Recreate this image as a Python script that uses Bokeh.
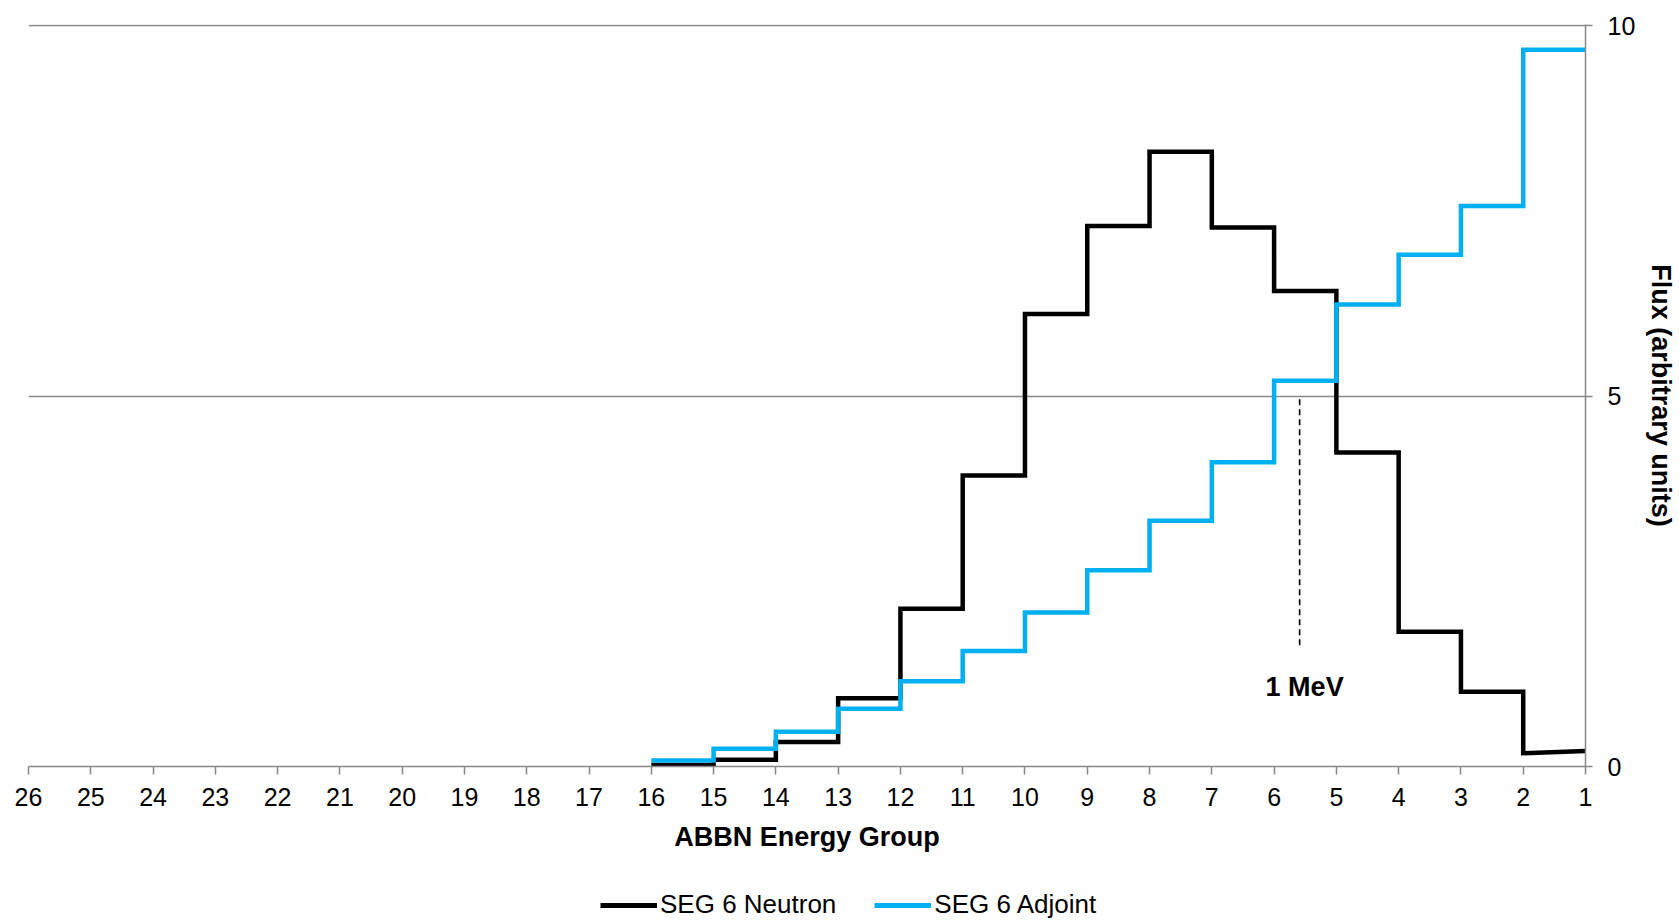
from bokeh.plotting import figure
from bokeh.layouts import column
from bokeh.models import Range1d, FixedTicker, Legend, LegendItem
from bokeh.core.properties import value
from bokeh.embed import file_html
from bokeh.resources import INLINE

# ---- data -------------------------------------------------------------
groups = list(range(16, 1, -1))          # left edge of each step: 16 .. 2
neutron = [0.02, 0.09, 0.33, 0.92, 2.13, 3.93, 6.11, 7.30, 8.30, 7.28, 6.42, 4.24, 1.82, 1.01, 0.18]
neutron_end = 0.21                        # value at group 1
adjoint = [0.08, 0.24, 0.47, 0.78, 1.15, 1.56, 2.08, 2.65, 3.32, 4.11, 5.21, 6.24, 6.91, 7.57, 9.68]
adjoint_end = 9.68
series_names = ["SEG 6 Neutron", "SEG 6 Adjoint"]
series_colors = ["black", "#00B0F0"]
x_ticks = list(range(1, 27))
y_ticks = [0, 5, 10]
mev_group = 5.59
mev_top, mev_bottom = 4.96, 1.61
mev_label = "1 MeV"
mev_label_x, mev_label_y = 5.51, 1.07

FONT = "Liberation Sans"
GRAY = "#898989"


def steps(levels, end):
    xs, ys = [], []
    for i, (g, v) in enumerate(zip(groups, levels)):
        last = i == len(levels) - 1
        xs += [g, g - 1]
        ys += [v, end if last else v]
    return xs, ys


nx, ny = steps(neutron, neutron_end)
ax, ay = steps(adjoint, adjoint_end)

p = figure(width=1679, height=880, x_range=Range1d(26, 1), y_range=Range1d(0, 10.02),
           output_backend="svg", toolbar_location=None, y_axis_location="right",
           min_border_left=28, min_border_right=91, min_border_top=24, min_border_bottom=114)
p.outline_line_color = None
p.background_fill_color = "white"
p.border_fill_color = "white"

p.line(nx, ny, line_color=series_colors[0], line_width=4.5, line_join="miter")
p.line(ax, ay, line_color=series_colors[1], line_width=4.5, line_join="miter")

p.segment(x0=[mev_group], y0=[mev_top], x1=[mev_group], y1=[mev_bottom],
          line_color="black", line_width=1.6, line_dash="6 4")
p.text(x=[mev_label_x], y=[mev_label_y], text=[mev_label], text_align="center",
       text_baseline="middle", text_font=value(FONT), text_font_style="bold",
       text_font_size="27px", text_color="black")

# axes
xa = p.xaxis[0]
xa.ticker = FixedTicker(ticks=x_ticks)
xa.axis_line_color = GRAY
xa.axis_line_width = 1.5
xa.major_tick_line_color = GRAY
xa.major_tick_line_width = 1.5
xa.major_tick_out = 8
xa.major_tick_in = 0
xa.minor_tick_line_color = None
xa.major_label_standoff = 13
xa.major_label_text_font = FONT
xa.major_label_text_font_size = "25px"
xa.major_label_text_color = "black"
xa.axis_label = "ABBN Energy Group"
xa.axis_label_text_font = FONT
xa.axis_label_text_font_style = "bold"
xa.axis_label_text_font_size = "27px"
xa.axis_label_text_color = "black"
xa.axis_label_standoff = 13

ya = p.yaxis[0]
ya.ticker = FixedTicker(ticks=y_ticks)
ya.axis_line_color = GRAY
ya.axis_line_width = 1.5
ya.major_tick_line_color = GRAY
ya.major_tick_line_width = 1.5
ya.major_tick_out = 7
ya.major_tick_in = 0
ya.minor_tick_line_color = None
ya.major_label_standoff = 15
ya.major_label_text_font = FONT
ya.major_label_text_font_size = "25px"
ya.major_label_text_color = "black"
ya.axis_label = "Flux (arbitrary units)"
ya.axis_label_text_font = FONT
ya.axis_label_text_font_style = "bold"
ya.axis_label_text_font_size = "27px"
ya.axis_label_text_color = "black"
ya.axis_label_standoff = 8

p.xgrid.visible = False
p.ygrid.ticker = FixedTicker(ticks=[5, 10])
p.ygrid.grid_line_color = GRAY
p.ygrid.grid_line_width = 1.5

# legend strip below the chart (its sample lines lie outside the strip's visible range)
pl = figure(width=1679, height=40, x_range=Range1d(0, 1), y_range=Range1d(0, 1),
            output_backend="svg", toolbar_location=None,
            x_axis_location=None, y_axis_location=None, min_border=0)
pl.outline_line_color = None
pl.grid.visible = False
items = []
for name, col in zip(series_names, series_colors):
    r = pl.line([5, 6], [5, 6], line_color=col, line_width=5)
    items.append(LegendItem(label=name, renderers=[r]))
legend = Legend(items=items, location=(572, 0), orientation="horizontal")
legend.label_text_font = FONT
legend.label_text_font_size = "26px"
legend.label_text_color = "black"
legend.glyph_width = 57
legend.glyph_height = 28
legend.label_height = 28
legend.label_standoff = 3
legend.spacing = 38
legend.padding = 0
legend.margin = 0
legend.border_line_color = None
legend.background_fill_alpha = 0
pl.add_layout(legend)

open("out.html", "w").write(file_html(column(p, pl, spacing=0), INLINE))
